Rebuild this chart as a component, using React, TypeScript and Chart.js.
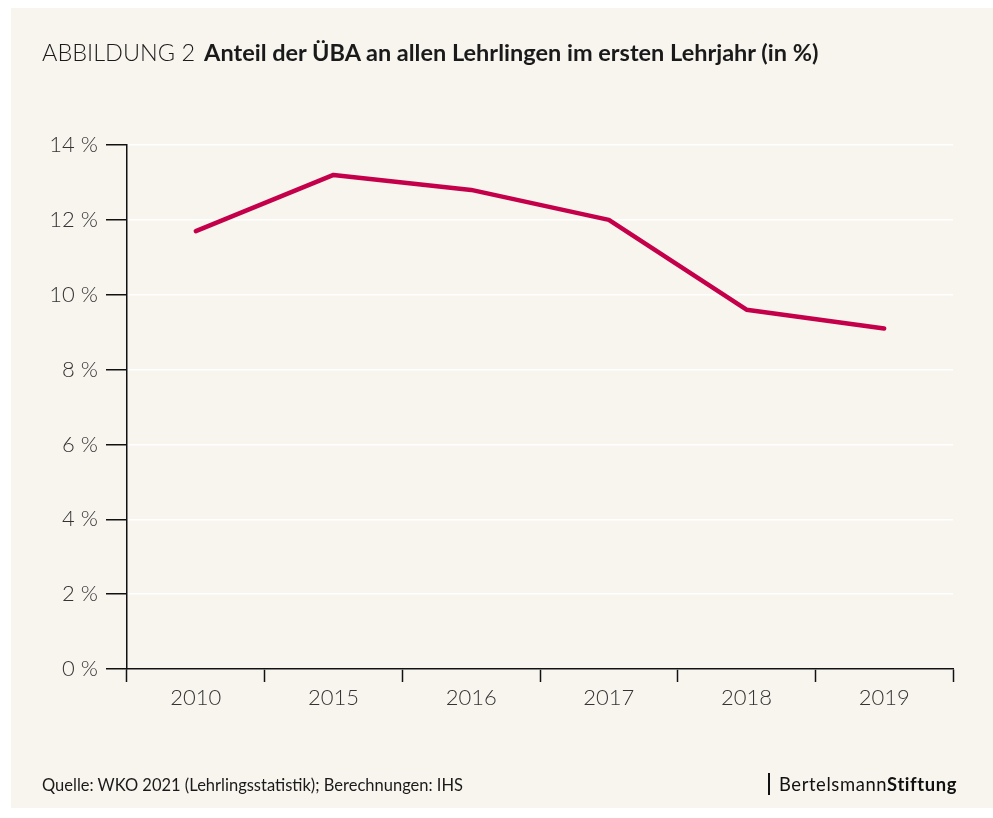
import React, { useEffect, useRef } from "react";
import { Chart, registerables } from "chart.js";

Chart.register(...registerables);

const categories = ["2010", "2015", "2016", "2017", "2018", "2019"];
const shareValues = [11.7, 13.2, 12.8, 12.0, 9.6, 9.1];
const yTicks = [0, 2, 4, 6, 8, 10, 12, 14];

const titlePrefix = "ABBILDUNG 2";
const titleMain = "Anteil der ÜBA an allen Lehrlingen im ersten Lehrjahr (in %)";
const sourceText = "Quelle: WKO 2021 (Lehrlingsstatistik); Berechnungen: IHS";

const PANEL_W = 982;
const PANEL_H = 800;

export default function App() {
  const ref = useRef<HTMLCanvasElement | null>(null);

  useEffect(() => {
    if (!ref.current) return;
    const chart = new Chart(ref.current, {
      type: "line",
      data: {
        labels: categories,
        datasets: [
          {
            data: shareValues,
            borderColor: "#c4004a",
            borderWidth: 4.5,
            pointRadius: 0,
            tension: 0,
            borderCapStyle: "round",
            borderJoinStyle: "round",
          },
        ],
      },
      options: {
        animation: false,
        responsive: false,
        maintainAspectRatio: false,
        layout: { padding: { left: 0, top: 137, right: 40, bottom: 0 } },
        plugins: { legend: { display: false }, tooltip: { enabled: false } },
        scales: {
          x: {
            offset: true,
            grid: {
              offset: true,
              drawOnChartArea: false,
              drawTicks: true,
              tickLength: 13,
              tickColor: "#111",
              tickWidth: 1.5,
            },
            border: { color: "#111", width: 1.5 },
            ticks: {
              color: "#333",
              padding: 3,
              font: { family: "Lato", size: 22, weight: "300" },
            },
            afterFit: (s: any) => {
              s.height = 139;
            },
          },
          y: {
            min: 0,
            max: 14,
            afterBuildTicks: (s: any) => {
              s.ticks = yTicks.map((v) => ({ value: v }));
            },
            grid: {
              color: "#ffffff",
              lineWidth: 1.5,
              drawTicks: true,
              tickLength: 21,
              tickColor: "#111",
              tickWidth: 1.5,
            },
            border: { color: "#111", width: 1.5 },
            ticks: {
              color: "#333",
              padding: 8,
              font: { family: "Lato", size: 22, weight: "300" },
              callback: (v: any) => `${v} %`,
            },
            afterFit: (s: any) => {
              s.width = 116;
            },
          },
        },
      },
    });
    return () => chart.destroy();
  }, []);

  return (
    <div
      style={{
        position: "absolute",
        left: 11,
        top: 8,
        width: PANEL_W,
        height: PANEL_H,
        background: "#f8f5ef",
        fontFamily: "Lato",
        overflow: "hidden",
      }}
    >
      <canvas
        ref={ref}
        width={PANEL_W}
        height={PANEL_H}
        style={{ position: "absolute", left: 0, top: 0, width: PANEL_W, height: PANEL_H }}
      />
      <div
        style={{
          position: "absolute",
          left: 31,
          top: 29,
          fontSize: 23.5,
          color: "#1a1a1a",
          whiteSpace: "nowrap",
          lineHeight: "30px",
        }}
      >
        <span style={{ fontWeight: 300 }}>{titlePrefix}</span>
        <span style={{ fontWeight: 700, marginLeft: 9 }}>{titleMain}</span>
      </div>
      <div
        style={{
          position: "absolute",
          left: 31,
          top: 766,
          fontSize: 16.5,
          color: "#1a1a1a",
          whiteSpace: "nowrap",
          lineHeight: "22px",
        }}
      >
        {sourceText}
      </div>
      <div
        style={{
          position: "absolute",
          left: 757,
          top: 765,
          height: 22,
          borderLeft: "2px solid #111",
          paddingLeft: 9,
          fontSize: 18.4,
          color: "#111",
          whiteSpace: "nowrap",
          lineHeight: "22px",
          letterSpacing: 0.6,
        }}
      >
        <span style={{ fontWeight: 400 }}>Bertelsmann</span>
        <span style={{ fontWeight: 700 }}>Stiftung</span>
      </div>
    </div>
  );
}
